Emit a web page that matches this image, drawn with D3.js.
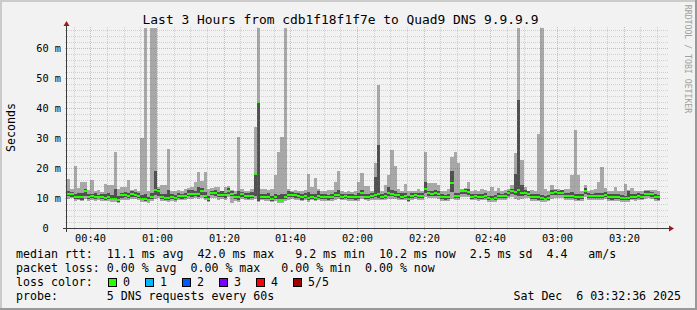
<!DOCTYPE html>
<html>
<head>
<meta charset="utf-8">
<script src="https://cdn.jsdelivr.net/npm/d3@7"></script>
<style>
  body { margin: 0; background: #f2f2f2; }
  svg { display: block; }
  text { font-family: "DejaVu Sans Mono", monospace; white-space: pre; }
</style>
</head>
<body>
<svg id="chart" width="697" height="310"></svg>
<script>
/* -------------------------------------------------------------------------- */
// data: one value per minute, from 00:33 onwards (ms)
const title = 'Last 3 Hours from cdb1f18f1f7e to Quad9 DNS 9.9.9.9';
const startTime = new Date(2025, 11, 6, 0, 33);
const endTime = new Date(2025, 11, 6, 3, 33);

const pingMax = [
  16.3, 13.0, 20.7, 13.2, 15.5, 15.5, 12.8, 16.0, 12.5, 12.6,
  12.0, 14.7, 14.3, 14.3, 25.4, 13.0, 13.8, 13.8, 16.0, 12.8,
  13.0, 12.5, 30.0, 67.0, 12.5, 67.0, 67.0, 13.5, 14.4, 14.5,
  26.3, 12.5, 12.4, 12.8, 12.5, 13.0, 13.2, 13.5, 15.5, 18.8,
  15.7, 18.6, 13.0, 13.2, 13.8, 13.7, 12.5, 13.8, 14.0, 12.7,
  12.5, 30.3, 13.0, 12.5, 12.5, 13.0, 33.6, 67.0, 13.0, 13.0,
  12.8, 13.0, 17.7, 25.3, 30.3, 67.0, 13.0, 12.5, 12.8, 12.5,
  12.5, 12.8, 18.0, 13.5, 16.7, 13.0, 12.5, 12.5, 12.6, 12.8,
  15.5, 19.0, 12.5, 12.0, 12.2, 12.0, 12.5, 15.2, 18.5, 14.0,
  14.0, 12.5, 21.8, 47.7, 12.5, 14.4, 17.7, 26.0, 20.8, 13.0,
  12.5, 14.7, 12.5, 12.5, 12.5, 13.0, 12.5, 25.2, 15.0, 15.0,
  15.0, 14.5, 12.5, 12.5, 13.0, 23.8, 25.2, 21.6, 13.0, 13.4,
  15.5, 12.5, 12.8, 12.5, 13.0, 12.6, 12.5, 13.5, 12.5, 13.3,
  12.5, 12.8, 13.0, 14.4, 25.0, 67.0, 22.7, 13.8, 12.5, 12.8,
  12.5, 31.3, 67.0, 13.0, 12.5, 14.4, 13.0, 13.0, 12.8, 13.0,
  13.0, 17.7, 32.7, 17.7, 12.5, 14.4, 12.5, 12.7, 13.0, 15.3,
  20.5, 13.3, 12.5, 12.5, 13.6, 12.5, 12.5, 14.7, 12.8, 13.3,
  12.5, 12.5, 12.5, 12.7, 12.7, 12.7, 12.7, 12.5
];
const pingQ3 = [
  12.5, 12.0, 11.5, 11.8, 11.6, 13.0, 11.5, 11.2, 11.6, 11.0,
  11.2, 11.5, 11.6, 11.0, 13.0, 10.8, 11.6, 12.0, 11.8, 12.4,
  12.0, 11.8, 11.0, 11.5, 10.5, 11.6, 19.0, 13.0, 11.3, 11.5,
  12.6, 11.2, 11.0, 11.8, 11.5, 11.7, 12.6, 12.8, 12.4, 13.5,
  13.2, 12.0, 10.8, 12.5, 12.6, 12.0, 12.2, 11.8, 13.2, 12.4,
  11.5, 12.2, 12.0, 11.7, 11.8, 11.9, 18.3, 42.2, 11.5, 11.4,
  11.6, 10.8, 11.5, 11.0, 11.2, 11.5, 12.4, 12.0, 11.8, 11.6,
  11.3, 11.8, 12.0, 11.5, 11.4, 12.2, 11.2, 11.3, 11.0, 11.2,
  12.0, 12.6, 11.5, 11.4, 11.3, 11.2, 11.0, 11.6, 12.8, 11.5,
  11.4, 11.8, 17.0, 27.7, 11.5, 11.6, 13.6, 12.8, 12.4, 11.8,
  11.6, 11.8, 10.8, 11.6, 11.8, 11.6, 11.6, 15.4, 12.5, 12.4,
  12.6, 12.3, 11.2, 11.0, 11.3, 18.9, 11.8, 11.7, 12.8, 13.0,
  13.0, 11.4, 11.5, 11.3, 11.4, 11.6, 10.8, 10.8, 11.0, 11.6,
  11.5, 11.8, 12.4, 13.0, 18.0, 42.7, 14.4, 12.6, 12.5, 11.4,
  11.3, 11.2, 10.9, 10.8, 11.0, 12.6, 12.8, 12.5, 12.6, 11.6,
  11.6, 12.0, 11.4, 11.2, 11.4, 13.2, 11.6, 11.5, 11.8, 11.6,
  11.8, 12.0, 11.3, 11.2, 11.4, 11.5, 11.0, 10.8, 12.2, 11.5,
  11.3, 11.6, 11.4, 12.2, 12.3, 12.0, 11.3, 11.1
];
const pingMedian = [
  11.4, 11.3, 10.3, 10.4, 10.2, 12.5, 10.5, 10.6, 10.4, 10.5,
  10.2, 10.1, 10.3, 9.8, 9.8, 9.2, 10.9, 11.0, 10.8, 11.2,
  11.0, 10.7, 9.7, 9.6, 9.3, 10.3, 12.8, 12.2, 10.3, 10.1,
  10.0, 10.2, 10.0, 10.7, 10.6, 10.8, 11.4, 11.3, 11.5, 11.4,
  12.2, 10.8, 9.7, 11.8, 11.7, 11.0, 11.1, 10.9, 12.5, 11.4,
  10.3, 10.2, 11.2, 10.7, 10.6, 10.8, 18.0, 42.0, 10.5, 10.3,
  10.4, 9.7, 10.3, 9.4, 9.5, 10.4, 11.0, 11.1, 10.9, 10.6,
  10.2, 10.7, 10.0, 10.5, 10.1, 10.6, 10.3, 10.4, 10.2, 10.3,
  11.0, 11.1, 10.5, 10.6, 10.4, 10.3, 10.2, 10.4, 11.8, 10.5,
  10.4, 10.6, 11.0, 11.3, 10.5, 10.6, 11.6, 11.5, 11.1, 10.9,
  10.5, 10.7, 9.7, 10.8, 10.9, 10.7, 10.8, 13.1, 11.6, 11.5,
  11.7, 11.4, 10.3, 10.2, 10.4, 15.0, 10.7, 10.6, 12.2, 12.3,
  12.1, 10.5, 10.6, 10.4, 10.5, 10.6, 9.9, 9.8, 10.0, 10.7,
  10.6, 10.8, 11.6, 12.2, 12.1, 12.7, 11.6, 11.7, 11.5, 10.4,
  10.3, 10.2, 9.9, 9.8, 10.0, 11.8, 11.9, 11.7, 11.8, 10.7,
  10.6, 10.8, 10.3, 10.2, 10.4, 12.5, 10.7, 10.6, 10.8, 10.7,
  10.6, 10.9, 10.3, 10.2, 10.4, 10.3, 10.0, 9.9, 10.1, 10.5,
  10.4, 10.6, 10.5, 11.4, 11.5, 11.3, 10.3, 10.2
];
const pingQ1 = [
  10.6, 10.5, 9.6, 9.8, 9.5, 10.8, 9.8, 9.9, 9.7, 9.9,
  9.6, 9.5, 9.7, 9.2, 9.3, 8.8, 10.0, 10.2, 10.1, 10.4,
  10.2, 9.9, 9.2, 9.0, 8.9, 9.6, 11.0, 10.8, 9.6, 9.5,
  9.4, 9.6, 9.3, 9.9, 9.8, 10.0, 10.6, 10.5, 10.7, 10.5,
  11.0, 10.0, 9.1, 10.9, 10.8, 10.2, 10.3, 10.1, 11.2, 10.6,
  9.6, 9.5, 10.4, 9.9, 9.8, 10.0, 10.8, 9.0, 9.8, 9.6,
  9.7, 9.1, 9.6, 8.9, 9.0, 9.7, 10.2, 10.3, 10.1, 9.9,
  9.5, 10.0, 9.3, 9.8, 9.4, 9.9, 9.6, 9.7, 9.5, 9.6,
  10.2, 10.3, 9.8, 9.9, 9.7, 9.6, 9.5, 9.7, 10.8, 9.8,
  9.7, 9.9, 10.2, 10.0, 9.8, 9.9, 10.7, 10.6, 10.3, 10.1,
  9.8, 10.0, 9.1, 10.1, 10.2, 10.0, 10.1, 11.6, 10.8, 10.7,
  10.8, 10.6, 9.6, 9.5, 9.7, 12.0, 10.0, 9.9, 11.2, 11.3,
  11.1, 9.8, 9.9, 9.7, 9.8, 9.9, 9.3, 9.2, 9.4, 10.0,
  9.9, 10.1, 10.8, 11.3, 11.0, 10.6, 10.8, 10.9, 10.7, 9.7,
  9.6, 9.5, 9.3, 9.2, 9.4, 10.9, 11.0, 10.9, 10.9, 10.0,
  9.9, 10.1, 9.6, 9.5, 9.7, 11.4, 10.0, 9.9, 10.1, 10.0,
  9.9, 10.2, 9.6, 9.5, 9.7, 9.6, 9.3, 9.2, 9.4, 9.8,
  9.7, 9.9, 9.8, 10.6, 10.7, 10.5, 9.6, 9.5
];
const pingMin = [
  9.8, 9.9, 9.0, 9.2, 8.9, 9.6, 9.1, 9.3, 9.1, 9.3,
  9.0, 8.9, 9.1, 8.7, 8.8, 8.4, 9.3, 9.5, 9.4, 9.7,
  9.6, 9.3, 8.8, 8.6, 8.5, 9.0, 9.6, 10.0, 9.0, 8.9,
  8.8, 9.0, 8.8, 9.3, 9.2, 9.4, 9.8, 9.7, 9.9, 9.8,
  9.9, 9.2, 8.6, 10.0, 9.9, 9.4, 9.6, 9.4, 10.2, 8.3,
  8.9, 8.8, 9.6, 9.3, 9.2, 9.4, 9.6, 8.6, 9.2, 9.0,
  9.0, 8.6, 9.0, 8.4, 8.5, 9.1, 9.5, 9.6, 9.4, 9.3,
  8.9, 9.4, 8.8, 9.2, 8.9, 9.3, 9.0, 9.1, 8.9, 9.0,
  9.5, 9.6, 9.2, 9.3, 9.1, 9.0, 8.9, 9.1, 9.8, 9.2,
  9.1, 9.3, 9.5, 9.4, 9.2, 9.3, 9.8, 9.8, 9.6, 9.4,
  9.2, 9.4, 8.6, 9.5, 9.6, 9.4, 9.5, 10.2, 10.0, 9.9,
  10.0, 9.8, 9.0, 8.9, 9.1, 9.8, 9.3, 9.2, 10.2, 10.4,
  10.2, 9.2, 9.3, 9.1, 9.2, 9.3, 8.7, 8.6, 8.8, 9.4,
  9.3, 9.5, 10.0, 10.4, 9.6, 9.4, 9.8, 10.0, 9.9, 9.1,
  9.0, 8.9, 8.8, 8.7, 8.9, 9.8, 10.1, 10.0, 10.0, 9.4,
  9.3, 9.5, 9.0, 8.9, 9.1, 10.2, 9.4, 9.3, 9.5, 9.4,
  9.3, 9.6, 9.0, 8.9, 9.1, 9.0, 8.7, 8.6, 8.8, 9.2,
  9.1, 9.3, 9.2, 9.8, 10.0, 9.7, 9.0, 8.9
];

const yTicks = [0, 10, 20, 30, 40, 50, 60];
const yTickLabels = ['0  ', '10 m', '20 m', '30 m', '40 m', '50 m', '60 m'];

const lossColors = [
  { label: '0', color: '#26ff00' },
  { label: '1', color: '#00b8ff' },
  { label: '2', color: '#0059ff' },
  { label: '3', color: '#7e00ff' },
  { label: '4', color: '#ff0000' },
  { label: '5/5', color: '#a00000' }
];

const legendLines = [
  'median rtt:  11.1 ms avg  42.0 ms max   9.2 ms min  10.2 ms now  2.5 ms sd  4.4   am/s',
  'packet loss: 0.00 % avg  0.00 % max   0.00 % min  0.00 % now',
  'loss color:',
  'probe:       5 DNS requests every 60s'
];
const stampText = 'Sat Dec  6 03:32:36 2025';

/* -------------------------------------------------------------------------- */
const W = 697, H = 310;
const x0 = 67, x1 = 667, y0 = 228, y1 = 28;

const svg = d3.select('#chart');

const x = d3.scaleTime().domain([startTime, endTime]).range([x0, x1]);
const y = d3.scaleLinear().domain([0, 200 / 3]).range([y0, y1]).clamp(true);

const cols = pingMedian.map((m, i) => ({
  t0: d3.timeMinute.offset(startTime, i),
  t1: d3.timeMinute.offset(startTime, i + 1),
  mn: pingMin[i], q1: pingQ1[i], med: m, q3: pingQ3[i], mx: pingMax[i]
}));

// background and 3d border
svg.append('rect').attr('width', W).attr('height', H).attr('fill', '#f2f2f2');
svg.append('path').attr('d', `M0,0H${W}V2H2V${H}H0Z`).attr('fill', '#cbcbcb');
svg.append('path').attr('d', `M${W},${H}H0V${H - 2}H${W - 2}V0H${W}Z`).attr('fill', '#999999');

// smoke
const px = d => Math.round(x(d));
const py = v => Math.round(y(v));

const smoke = svg.append('g').attr('shape-rendering', 'crispEdges');
smoke.selectAll('rect.outer').data(cols).enter().append('rect')
  .attr('class', 'outer')
  .attr('x', d => px(d.t0)).attr('width', d => px(d.t1) - px(d.t0))
  .attr('y', d => py(d.mx)).attr('height', d => py(d.mn) - py(d.mx))
  .attr('fill', '#a8a8a8');
smoke.selectAll('rect.inner').data(cols).enter().append('rect')
  .attr('class', 'inner')
  .attr('x', d => px(d.t0)).attr('width', d => px(d.t1) - px(d.t0))
  .attr('y', d => py(d.q3)).attr('height', d => Math.max(1, py(d.q1) - py(d.q3)))
  .attr('fill', '#505050');

// median, coloured by loss (all zero loss here)
smoke.selectAll('rect.med').data(cols).enter().append('rect')
  .attr('class', 'med')
  .attr('x', d => px(d.t0)).attr('width', d => px(d.t1) - px(d.t0))
  .attr('y', d => py(d.med) - 1).attr('height', 2)
  .attr('fill', lossColors[0].color);

// grid on top, like rrdtool
const grid = svg.append('g').attr('shape-rendering', 'crispEdges');
const minorY = d3.range(0, 67, 2).filter(v => v % 10 != 0);
const minorX = x.ticks(d3.timeMinute.every(5)).filter(t => t.getMinutes() % 20 != 0);
const majorX = x.ticks(d3.timeMinute.every(20));
const minorColor = 'rgba(128,128,128,0.3)', majorColor = 'rgba(255,0,0,0.3)';

grid.selectAll('line.hmin').data(minorY).enter().append('line')
  .attr('x1', x0 - 2).attr('x2', x1 + 2)
  .attr('y1', v => py(v) + 0.5).attr('y2', v => py(v) + 0.5)
  .attr('stroke', minorColor).attr('stroke-dasharray', '1,1');
grid.selectAll('line.vmin').data(minorX).enter().append('line')
  .attr('x1', t => px(t) + 0.5).attr('x2', t => px(t) + 0.5)
  .attr('y1', y0 + 2).attr('y2', y1 - 2)
  .attr('stroke', minorColor).attr('stroke-dasharray', '1,1');
grid.selectAll('line.hmaj').data(yTicks.slice(1)).enter().append('line')
  .attr('x1', x0 - 2).attr('x2', x1 + 2)
  .attr('y1', v => py(v) + 0.5).attr('y2', v => py(v) + 0.5)
  .attr('stroke', majorColor).attr('stroke-dasharray', '1,1');
grid.selectAll('line.vmaj').data(majorX).enter().append('line')
  .attr('x1', t => px(t) + 0.5).attr('x2', t => px(t) + 0.5)
  .attr('y1', y0 + 2).attr('y2', y1 - 2)
  .attr('stroke', majorColor).attr('stroke-dasharray', '1,1');

// axes and arrows
const axisColor = '#3c3c3c', arrowColor = '#a01818';
grid.append('line').attr('x1', x0 - 4).attr('x2', x1 + 4)
  .attr('y1', y0 + 0.5).attr('y2', y0 + 0.5).attr('stroke', axisColor);
grid.append('line').attr('x1', x0 - 0.5).attr('x2', x0 - 0.5)
  .attr('y1', y0 + 4).attr('y2', y1 - 4).attr('stroke', axisColor);
svg.append('path')
  .attr('d', `M${x1 + 2},${y0 - 2.5}L${x1 + 7},${y0 + 0.5}L${x1 + 2},${y0 + 3.5}Z`)
  .attr('fill', arrowColor);
svg.append('path')
  .attr('d', `M${x0 - 3.5},${y1 - 2}L${x0 - 0.5},${y1 - 7}L${x0 + 2.5},${y1 - 2}Z`)
  .attr('fill', arrowColor);

// tick labels
svg.selectAll('text.ylab').data(yTicks).enter().append('text')
  .attr('x', 61).attr('y', v => py(v) + 3.6)
  .attr('text-anchor', 'end').attr('font-size', '10.3px').attr('fill', '#000')
  .text((v, i) => yTickLabels[i]);
svg.selectAll('text.xlab').data(majorX).enter().append('text')
  .attr('x', t => px(t) + 0.5).attr('y', 241.5)
  .attr('text-anchor', 'middle').attr('font-size', '10.3px').attr('fill', '#000')
  .text(d3.timeFormat('%H:%M'));

// titles
svg.append('text').attr('x', 340.5).attr('y', 24)
  .attr('text-anchor', 'middle').attr('font-size', '12.9px').text(title);
svg.append('text').attr('transform', 'translate(15,127.5) rotate(-90)')
  .attr('text-anchor', 'middle').attr('font-size', '11.6px').text('Seconds');
svg.append('text').attr('transform', 'translate(685,59) rotate(90)')
  .attr('text-anchor', 'middle').attr('font-size', '8.2px').attr('fill', '#a0a0a0')
  .text('RRDTOOL / TOBI OETIKER');

// legend
const legend = svg.append('g').attr('font-size', '11.6px');
legendLines.forEach((s, i) => {
  legend.append('text').attr('x', 16).attr('y', 258 + i * 14).text(s);
});
lossColors.forEach((d, i) => {
  legend.append('rect').attr('x', 108.5 + 37 * i).attr('y', 278.5)
    .attr('width', 8).attr('height', 8)
    .attr('fill', d.color).attr('stroke', '#000').attr('stroke-width', 1);
  legend.append('text').attr('x', 123 + 37 * i).attr('y', 286).text(d.label);
});
legend.append('text').attr('x', 681).attr('y', 300)
  .attr('text-anchor', 'end').text(stampText);
</script>
</body>
</html>
